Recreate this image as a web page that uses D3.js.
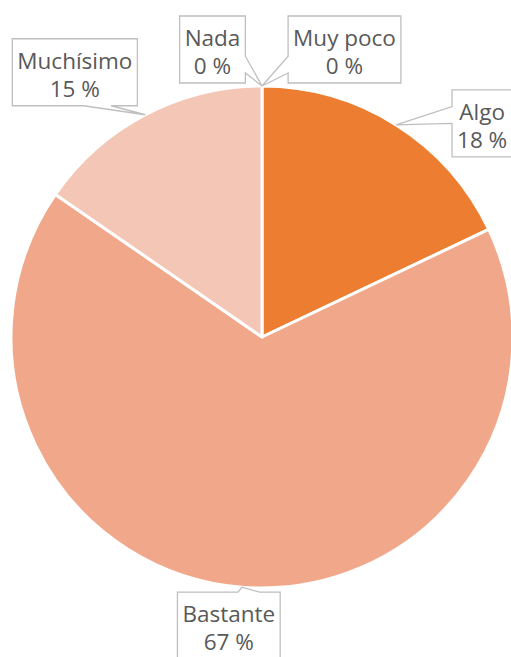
<!DOCTYPE html>
<html>
<head>
<meta charset="utf-8">
<script src="https://cdn.jsdelivr.net/npm/d3@7"></script>
<style>
  html, body { margin: 0; padding: 0; background: #fff; }
  svg { display: block; }
</style>
</head>
<body>
<svg id="chart" width="511" height="657"></svg>
<script>
// data (answer counts, labels show rounded percent)
const categories = ['Nada', 'Muy poco', 'Algo', 'Bastante', 'Muchísimo'];
const counts     = [0, 0, 7, 26, 6];
const colors     = ['#C55A11', '#F8CBAD', '#ED7D31', '#F1A88A', '#F4C6B6'];

// callout layout: box center offset from slice tip, tail side + base (fraction of edge)
const boxOffsets = [[-49.5, -36.5], [82.5, -36.5], [86, -1.5], [-13, 38.5], [-70.5, -42.5]];
const tailSides  = ['right', 'left', 'left', 'top', 'bottom'];
const tailBase   = [[0.6, 0.85], [0.6, 0.85], [0.25, 0.5], [0.59, 0.8], [0.57, 0.79]];

const WIDTH  = 511;
const HEIGHT = 657;
const CX = 262, CY = 337, R = 251;
const total = d3.sum(counts);

const svg = d3.select('#chart');
const g = svg.append('g').attr('transform', `translate(${CX},${CY})`);

const pie = d3.pie().sort(null).value(d => d.value);
const arcs = pie(categories.map((c, i) => ({ name: c, value: counts[i], i })));
const arc = d3.arc().innerRadius(0).outerRadius(R);

g.selectAll('path.slice')
  .data(arcs)
  .join('path')
  .attr('class', 'slice')
  .attr('d', arc)
  .attr('fill', d => colors[d.data.i])
  .attr('stroke', '#fff')
  .attr('stroke-width', 3)
  .attr('stroke-linejoin', 'round');

const fmt = v => `${Math.round(v / total * 100)} %`;

// labels
const labels = svg.append('g');
arcs.forEach((d, i) => {
  const mid = (d.startAngle + d.endAngle) / 2;
  const tip = [CX + R * Math.sin(mid), CY - R * Math.cos(mid)];
  const cx = tip[0] + boxOffsets[i][0];
  const cy = tip[1] + boxOffsets[i][1];

  const lg = labels.append('g');
  const path = lg.append('path');
  const t1 = lg.append('text')
    .attr('x', cx).attr('y', cy - 3.5)
    .attr('text-anchor', 'middle')
    .attr('font-family', "'Open Sans', sans-serif")
    .attr('font-size', 22.5)
    .attr('fill', '#595959')
    .text(d.data.name);
  const t2 = lg.append('text')
    .attr('x', cx).attr('y', cy + 24.5)
    .attr('text-anchor', 'middle')
    .attr('font-family', "'Open Sans', sans-serif")
    .attr('font-size', 22.5)
    .attr('fill', '#595959')
    .text(fmt(d.data.value));

  const w = Math.max(t1.node().getComputedTextLength(), t2.node().getComputedTextLength()) + 10;
  const h = 67;
  const x0 = cx - w / 2, x1 = cx + w / 2, y0 = cy - h / 2, y1 = cy + h / 2;
  const [a, b] = tailBase[i];
  const side = tailSides[i];
  const pts = [[x0, y0]];
  if (side === 'top') pts.push([x0 + a * w, y0], tip, [x0 + b * w, y0]);
  pts.push([x1, y0]);
  if (side === 'right') pts.push([x1, y0 + a * h], tip, [x1, y0 + b * h]);
  pts.push([x1, y1]);
  if (side === 'bottom') pts.push([x0 + b * w, y1], tip, [x0 + a * w, y1]);
  pts.push([x0, y1]);
  if (side === 'left') pts.push([x0, y0 + b * h], tip, [x0, y0 + a * h]);

  path.attr('d', d3.line()(pts) + 'Z')
    .attr('fill', '#fff')
    .attr('stroke', '#BFBFBF')
    .attr('stroke-width', 1.3);
});
</script>
</body>
</html>
